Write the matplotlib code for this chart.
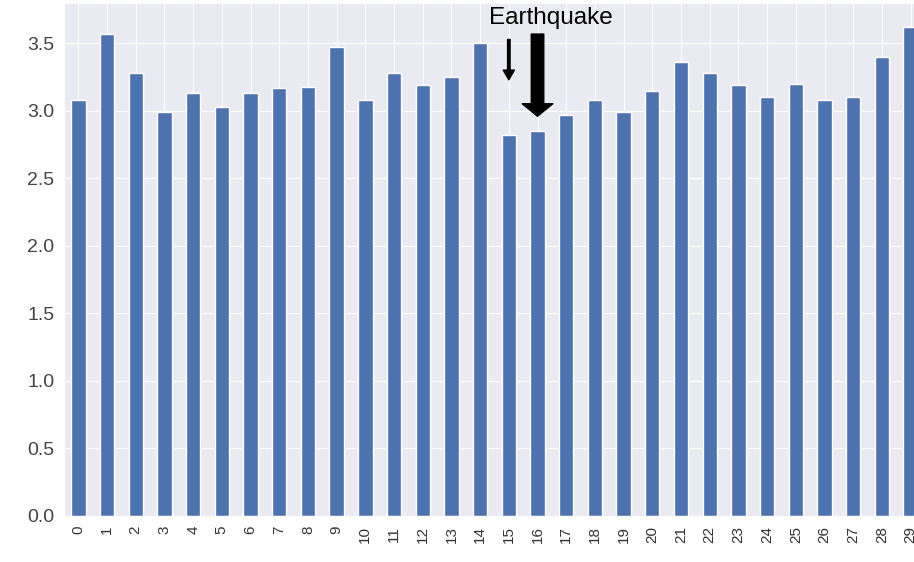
import matplotlib
matplotlib.use('Agg')
import matplotlib.pyplot as plt
import seaborn as sns
import pandas as pd

# mean magnitude per index
days = list(range(30))
values = [3.08, 3.57, 3.28, 2.99, 3.13, 3.03, 3.13, 3.17, 3.18, 3.47,
          3.08, 3.28, 3.19, 3.25, 3.50, 2.82, 2.85, 2.97, 3.08, 2.99,
          3.15, 3.36, 3.28, 3.19, 3.10, 3.20, 3.08, 3.10, 3.40, 3.62]

sns.set_style('darkgrid')
plt.rcParams['font.family'] = ['Liberation Sans', 'DejaVu Sans']

s = pd.Series(values, index=days)

fig = plt.figure(figsize=(9.14, 5.62), dpi=100)
# axes run a bit past the right edge, like the cropped screenshot
ax = fig.add_axes([0.070, 0.082, 0.942, 0.913])
s.plot(kind='bar', ax=ax, color='#4C72B0')

ax.tick_params(axis='y', labelsize=14, colors='#444444')
ax.tick_params(axis='x', labelsize=11, colors='#333333')

# earthquake markers
ax.annotate('', xy=(15, 3.21), xytext=(15, 3.55),
            arrowprops=dict(arrowstyle='simple,head_length=0.7,head_width=0.8,tail_width=0.18',
                            color='black'))
ax.annotate('', xy=(16, 2.94), xytext=(16, 3.59),
            arrowprops=dict(arrowstyle='simple,head_length=0.9,head_width=2.2,tail_width=0.9',
                            color='black'))
ax.text(16.45, 3.69, 'Earthquake', ha='center', va='center', fontsize=17.5, color='black')

fig.savefig('out.png', dpi=100)
